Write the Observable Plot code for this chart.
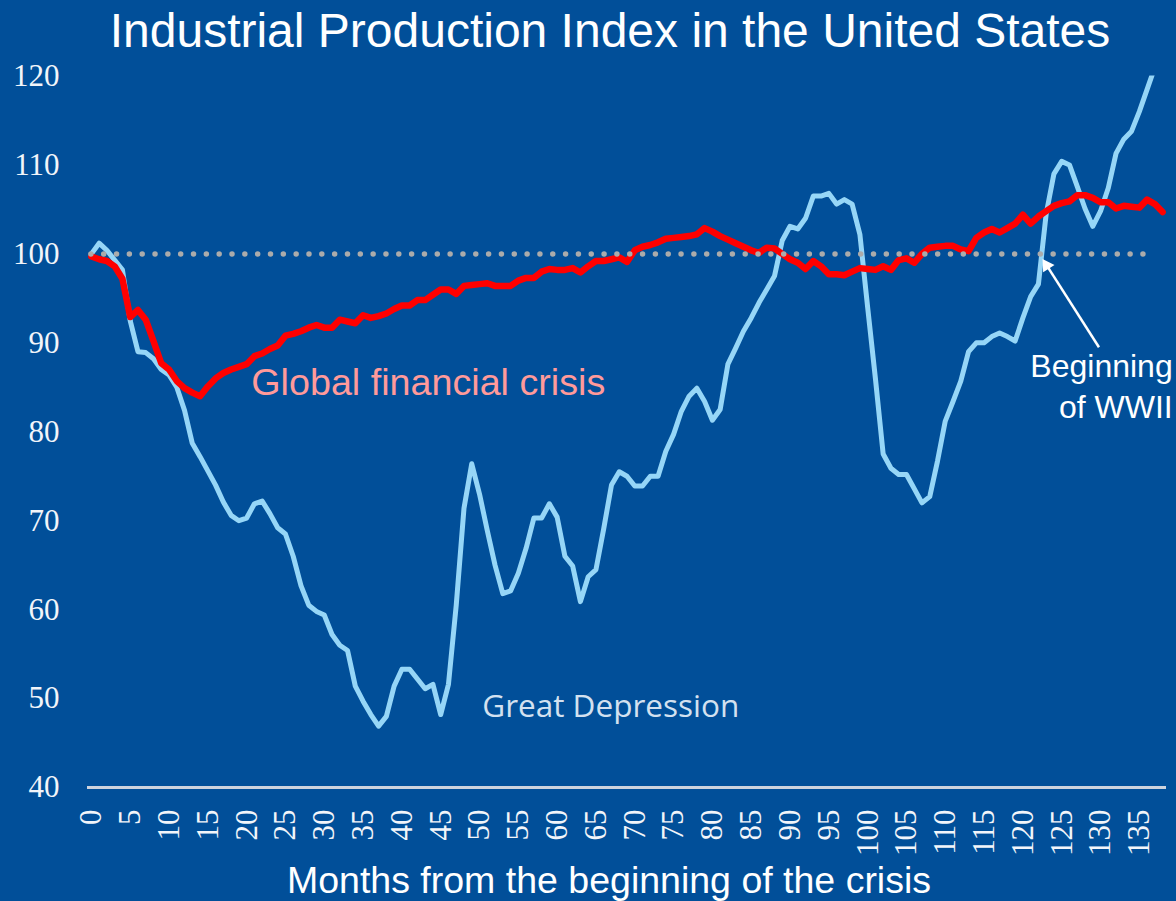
<!DOCTYPE html>
<html>
<head>
<meta charset="utf-8">
<script src="https://cdn.jsdelivr.net/npm/d3@7"></script>
<script src="https://cdn.jsdelivr.net/npm/@observablehq/plot@0.6"></script>
<style>
html, body { margin: 0; padding: 0; background: #014f99; }
#wrap { position: relative; width: 1176px; height: 901px; background: #014f99; overflow: hidden; }
#title { position: absolute; left: 44px; top: 7px; width: 1132px; text-align: center; font: 48px/1 "Liberation Sans", Arial, sans-serif; color: #ffffff; white-space: nowrap; }
#xlabel { position: absolute; left: 42px; top: 862px; width: 1134px; text-align: center; font: 37.5px/1 "Liberation Sans", Arial, sans-serif; color: #ffffff; white-space: nowrap; }
#chart { position: absolute; left: 0; top: 62px; }
</style>
</head>
<body>
<div id="wrap">
  <div id="title">Industrial Production Index in the United States</div>
  <div id="chart"></div>
  <div id="xlabel">Months from the beginning of the crisis</div>
</div>
<script>
// Great Depression, months 0..137 (index = month)
const greatDepression = [100, 101.2, 100.4, 99.3, 98.2, 92.5, 89, 88.9, 88.2, 87, 86.4, 85, 82.4, 78.7, 77.2, 75.6, 74, 72.1, 70.6, 70, 70.3, 71.9, 72.2, 70.8, 69.2, 68.5, 66, 62.7, 60.5, 59.8, 59.4, 57.2, 56, 55.4, 51.4, 49.7, 48.2, 46.9, 48, 51.4, 53.3, 53.3, 52.2, 51.1, 51.6, 48.2, 51.6, 60.5, 71.4, 76.4, 73, 68.9, 65, 61.8, 62.1, 64.1, 66.9, 70.3, 70.3, 71.9, 70.4, 66, 64.9, 60.9, 63.7, 64.5, 69.1, 74, 75.5, 75, 73.9, 73.9, 75, 75, 77.8, 79.7, 82.3, 84, 84.9, 83.4, 81.3, 82.5, 87.6, 89.4, 91.3, 92.8, 94.5, 96, 97.5, 101.5, 103.1, 102.8, 104, 106.5, 106.5, 106.8, 105.6, 106.1, 105.6, 102.2, 94, 86, 77.5, 75.9, 75.2, 75.2, 73.6, 72, 72.7, 76.7, 81.2, 83.4, 85.7, 89, 90, 90, 90.7, 91.1, 90.7, 90.2, 92.8, 95.2, 96.6, 104.5, 109, 110.4, 110, 107.6, 105.1, 103.1, 104.8, 107.4, 111.3, 112.9, 113.8, 116, 118.5, 121];

// Global financial crisis, months 0..138
const globalCrisis = [99.7, 99.4, 99.2, 98.6, 97.2, 92.9, 93.7, 92.6, 90.2, 87.7, 87, 85.7, 84.9, 84.4, 84, 85.1, 86, 86.6, 87, 87.3, 87.6, 88.5, 88.8, 89.3, 89.7, 90.8, 91, 91.3, 91.7, 92, 91.7, 91.7, 92.6, 92.4, 92.2, 93.1, 92.8, 93, 93.3, 93.8, 94.2, 94.2, 94.8, 94.8, 95.4, 96, 96, 95.5, 96.4, 96.5, 96.6, 96.7, 96.4, 96.4, 96.4, 97, 97.3, 97.3, 98, 98.3, 98.2, 98.2, 98.4, 97.9, 98.6, 99.2, 99.2, 99.4, 99.6, 99.1, 100.4, 100.8, 101, 101.3, 101.7, 101.8, 101.9, 102, 102.2, 102.9, 102.5, 102, 101.6, 101.2, 100.8, 100.4, 100.1, 100.7, 100.6, 100, 99.4, 99, 98.3, 99.2, 98.6, 97.7, 97.7, 97.6, 98, 98.4, 98.3, 98.2, 98.6, 98.2, 99.3, 99.5, 99, 100, 100.7, 100.8, 100.9, 100.9, 100.5, 100.3, 101.8, 102.4, 102.8, 102.4, 102.9, 103.4, 104.4, 103.4, 104.2, 104.8, 105.4, 105.7, 105.9, 106.6, 106.6, 106.3, 105.8, 105.8, 105.1, 105.4, 105.3, 105.2, 106.1, 105.6, 104.7];

const yTicks = [40, 50, 60, 70, 80, 90, 100, 110, 120];
const xTicks = d3.range(0, 136, 5);
const baseline = [100];

// annotation anchors in data space (month, index value)
const labels = [
  {month: 20.6, value: 84.1, text: "Global financial crisis"},
  {month: 50.35, value: 47.9, text: "Great Depression"},
  {month: 139.3, value: 81.6, text: "Beginning\nof WWII"}
];
const arrow = {fromMonth: 129.8, fromValue: 89.5, toMonth: 123.07, toValue: 98.7};

const gd = greatDepression.map((value, month) => ({month, value}));
const gfc = globalCrisis.map((value, month) => ({month, value}));

const serif = "'Liberation Serif', 'Times New Roman', serif";

const chart = Plot.plot({
  width: 1176,
  height: 800,
  marginTop: 13.5,
  marginBottom: 75,
  marginLeft: 87,
  marginRight: 10,
  style: {background: "transparent", color: "#f2f5fa", overflow: "visible", fontFamily: serif},
  x: {domain: [-0.5, 138.5]},
  y: {domain: [40, 120]},
  marks: [
    Plot.axisY({ticks: yTicks, tickSize: 0, tickPadding: 28, label: null, fontSize: 31, fontFamily: serif, fill: "#f2f5fa"}),
    Plot.axisX({ticks: xTicks, tickRotate: -90, tickSize: 0, tickPadding: 22, label: null, fontSize: 31, fontFamily: serif, fill: "#f2f5fa", tickFormat: d => String(d)}),
    Plot.ruleY([40], {stroke: "#cdd3de", strokeWidth: 3}),
    Plot.line(gd, {x: "month", y: "value", stroke: "#96d6f7", strokeWidth: 5, clip: true, strokeLinejoin: "round"}),
    Plot.line(gfc, {x: "month", y: "value", stroke: "#ff0000", strokeWidth: 6.5, strokeLinejoin: "round"}),
    Plot.ruleY(baseline, {x1: 0, x2: 137, stroke: "#ababab", strokeWidth: 5.5, strokeDasharray: "0 12.83", strokeLinecap: "round"}),
    Plot.text([labels[0]], {x: "month", y: "value", text: "text", textAnchor: "start", lineAnchor: "bottom", fontSize: 37.7, fontFamily: "'Liberation Sans', Arial, sans-serif", fill: "#ff9a9a"}),
    Plot.text([labels[1]], {x: "month", y: "value", text: "text", textAnchor: "start", lineAnchor: "bottom", fontSize: 31.5, fontFamily: "'Open Sans', sans-serif", fill: "#d3e1f0"}),
    Plot.text([labels[2]], {x: "month", y: "value", text: "text", textAnchor: "end", lineAnchor: "bottom", lineHeight: 1.28, fontSize: 32, fontFamily: "'Liberation Sans', Arial, sans-serif", fill: "#ffffff"}),
    Plot.link([arrow], {x1: "fromMonth", y1: "fromValue", x2: "toMonth", y2: "toValue", stroke: "#ffffff", strokeWidth: 2.5}),
    Plot.dot([arrow], {x: "toMonth", y: "toValue", symbol: "triangle", r: 5, fill: "#ffffff", stroke: "none", rotate: -32.6})
  ]
});
document.getElementById("chart").appendChild(chart);
</script>
</body>
</html>
